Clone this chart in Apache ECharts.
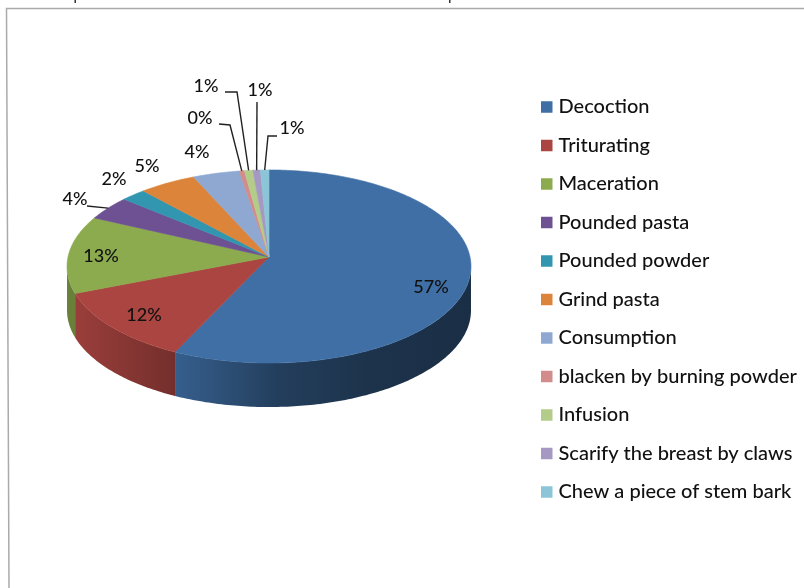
<!DOCTYPE html>
<html><head><meta charset="utf-8">
<style>html,body{margin:0;padding:0;background:#fff}#c{width:804px;height:588px}</style>
<script src="https://cdn.jsdelivr.net/npm/echarts@6/dist/echarts.min.js"></script>
</head><body><div id="c"></div>
<script>
const categories = ['Decoction','Triturating','Maceration','Pounded pasta','Pounded powder','Grind pasta','Consumption','blacken by burning powder','Infusion','Scarify the breast by claws','Chew a piece of stem bark'];
const shares = [57.0,12.0,13.0,4.1,2.2,5.0,4.1,0.45,0.75,0.65,0.75];
const colors = ['#3f6fa5','#ab4541','#8cab4f','#6d5192','#3296b0','#dc8439','#8ea8d2','#d18c8b','#b4cc89','#a598c2','#8cc5d8'];

const FONT = 'Lato, "Open Sans", sans-serif';
// projected disc: apex of the pie, horizontal and vertical scale, perspective, wall height
const CX = 269, CY = 257, AX = 201, BY = 95.6, PERSP = 0.0984, DEPTH = 44;
// label centre for each slice, and the elbow of its leader line when it has one
const labelAt = [[431,287],[144,315],[101,256],[75,199],[114,179],[147,166],[197,152],[200,118],[206,86],[260,90],[292,128]];
const leaders = {3:[[87,206]],7:[[219,124],[230,125]],8:[[225,92],[237,92]],9:[[257,102]],10:[[277,136],[268,136]]};
const wallStops = {0:[[0,0.86],[0.35,0.56],[0.65,0.46],[1,0.42]],1:[[0,0.9],[1,0.68]],2:[[0,0.75],[1,0.75]]};

const total = shares.reduce((a,b)=>a+b,0);
const starts = []; shares.reduce((acc,v,i)=>(starts[i]=acc, acc+v),0);
const toAngle = s => s/total*Math.PI*2;
const pt = (a,dy=0) => {const u=Math.sin(a),w=Math.cos(a),d=1+PERSP*w;return [CX+AX*u/d, CY-BY*w/d+dy];};
function arc(a0,a1,dy){const n=Math.max(2,Math.ceil((a1-a0)/0.015));const p=[];for(let i=0;i<=n;i++)p.push(pt(a0+(a1-a0)*i/n,dy));return p;}
function shade(hex,f){const n=parseInt(hex.slice(1),16);const c=[n>>16&255,n>>8&255,n&255].map(x=>Math.round(x*f));return `rgb(${c.join(',')})`;}
const SIDE = Math.acos(-PERSP);

function renderItem(params,api){
  const i = params.seriesIndex, v = api.value(0);
  const a0 = toAngle(starts[i]), a1 = a0+toAngle(v);
  const children = [];
  const w0 = Math.max(a0,SIDE), w1 = Math.min(a1,Math.PI*2-SIDE);
  if(w1>w0 && wallStops[i]){
    const top = arc(w0,w1,0), bottom = arc(w0,w1,DEPTH).reverse();
    // wall shade runs left to right across each slice; stops are listed from its left edge
    const stops = wallStops[i].map(([o,f])=>({offset:o,color:shade(colors[i],f)}));
    children.push({type:'polygon',shape:{points:top.concat(bottom)},
      style:{fill:new echarts.graphic.LinearGradient(0,0,1,0,stops)}});
  }
  const pts = [[CX,CY]].concat(arc(a0,a1,0));
  children.push({type:'polygon',shape:{points:pts},style:{fill:colors[i],stroke:colors[i],lineWidth:0.6}});
  return {type:'group',children};
}
function renderLabel(params,api){
  const i = params.seriesIndex-categories.length, v = api.value(0);
  const mid = toAngle(starts[i]+v/2);
  const children = [];
  if(leaders[i]){
    const end = pt(mid);
    children.push({type:'polyline',shape:{points:leaders[i].concat([end])},style:{fill:'none',stroke:'#222',lineWidth:1.4}});
  }
  children.push({type:'text',style:{text:Math.round(v/total*100)+'%',x:labelAt[i][0],y:labelAt[i][1],align:'center',verticalAlign:'middle',font:'500 18px '+FONT,fill:'#111'}});
  return {type:'group',children};
}
const series = categories.map((name,i)=>({type:'custom',name,coordinateSystem:'none',renderItem,data:[[shares[i]]],itemStyle:{color:colors[i]},silent:true}))
  .concat(categories.map((name,i)=>({type:'custom',name:name+' label',coordinateSystem:'none',renderItem:renderLabel,data:[[shares[i]]],z:5,silent:true})));

const chart = echarts.init(document.getElementById('c'),null,{renderer:'canvas'});
chart.setOption({
  animation:false,
  color:colors,
  legend:{data:categories,orient:'vertical',left:541,top:97,padding:0,icon:'rect',itemWidth:11.5,itemHeight:11.5,itemGap:18.5,
    selectedMode:false,textStyle:{fontFamily:FONT,fontSize:20,fontWeight:500,color:'#111',padding:[0,0,0,1]}},
  graphic:[
    {type:'polyline',shape:{points:[[9,588],[6.5,8.5],[804,8.5]]},style:{fill:'none',stroke:'#aaaaaa',lineWidth:1.5}},
    {type:'rect',shape:{x:74.5,y:0,width:1.5,height:3},style:{fill:'#333'}},
    {type:'rect',shape:{x:449,y:0,width:1.5,height:3},style:{fill:'#333'}}
  ],
  series
});
</script></body></html>
